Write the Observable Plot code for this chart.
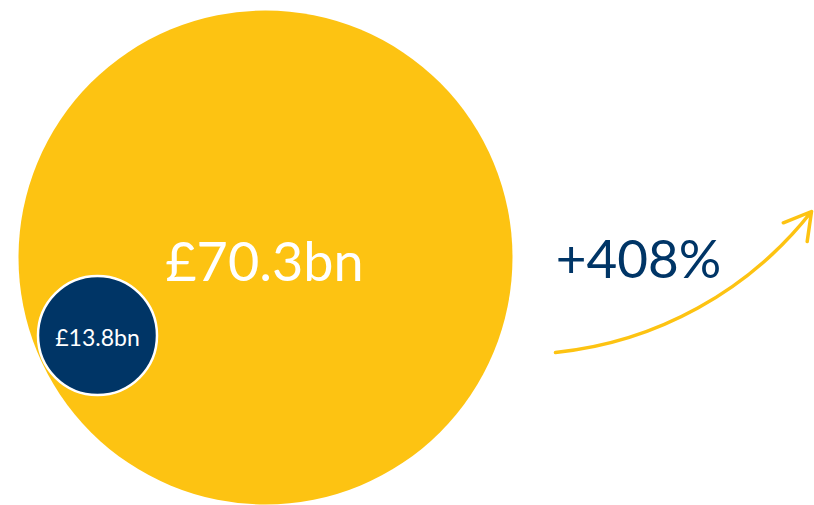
<!DOCTYPE html>
<html>
<head>
<meta charset="utf-8">
<script src="https://cdn.jsdelivr.net/npm/d3@7"></script>
<script src="https://cdn.jsdelivr.net/npm/@observablehq/plot@0.6"></script>
<style>
  html, body { margin: 0; padding: 0; background: #fff; }
  svg { display: block; overflow: visible; }
</style>
</head>
<body>
<div id="chart"></div>
<script>
// Data
const labels = ["£13.8bn", "£70.3bn"];
const values = [13.8, 70.3];
const changeLabel = "+408%";

// Layout (pixel positions of the infographic elements)
const YELLOW = "#FDC312";
const NAVY = "#003566";
const FONT = "Lato, 'Open Sans', sans-serif";

const circles = [
  {label: labels[1], value: values[1], cx: 265, cy: 257, fill: YELLOW, stroke: "none"},
  {label: labels[0], value: values[0], cx: 97, cy: 335, fill: NAVY, stroke: "#fff"}
];
const arrowData = [{x1: 555, y1: 352, x2: 811, y2: 211}];

const plot = Plot.plot({
  width: 814,
  height: 505,
  margin: 0,
  x: {type: "identity", axis: null},
  y: {type: "identity", axis: null},
  r: {type: "linear", domain: [d3.min(values), d3.max(values)], range: [59.5, 247]},
  style: {fontFamily: FONT, background: "#fff"},
  marks: [
    Plot.dot(circles, {x: "cx", y: "cy", r: "value", fill: "fill", stroke: "stroke", strokeWidth: 2.5}),
    Plot.text(circles.slice(0, 1), {x: 264, y: 280, text: "label", fill: "#fff", fontSize: 54, fontWeight: 400, lineAnchor: "bottom", textAnchor: "middle"}),
    Plot.text(circles.slice(1), {x: "cx", y: 345, text: "label", fill: "#fff", fontSize: 23, fontWeight: 400, lineAnchor: "bottom", textAnchor: "middle"}),
    Plot.text([changeLabel], {x: 638, y: 277, text: d => d, fill: NAVY, fontSize: 53, fontWeight: 400, lineAnchor: "bottom", textAnchor: "middle"}),
    Plot.arrow(arrowData, {x1: "x1", y1: "y1", x2: "x2", y2: "y2", bend: -23, stroke: YELLOW, strokeWidth: 3.5, headLength: 13, headAngle: 60})
  ]
});
document.getElementById("chart").appendChild(plot);
</script>
</body>
</html>
